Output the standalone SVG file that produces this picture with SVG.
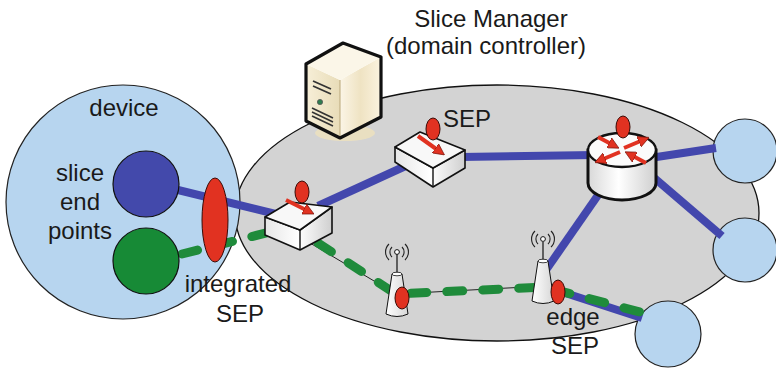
<svg xmlns="http://www.w3.org/2000/svg" width="776" height="368" viewBox="0 0 776 368">
  <defs>
    <style>
      .lbl { font-family: "Liberation Sans", Arial, sans-serif; font-size: 24px; fill: #1a1a1a; text-anchor: middle; }
      .ep { fill: #b7d5ef; stroke: #222; stroke-width: 1.2; }
      .blue { fill: none; stroke: #4347ad; stroke-width: 8; stroke-linecap: butt; }
      .green { fill: none; stroke: #1f8b3b; stroke-width: 9; stroke-linecap: round; stroke-dasharray: 16 20; }
      .thin { fill: none; stroke: #222; stroke-width: 1; }
      .sep { fill: #e13221; stroke: #3a0a05; stroke-width: 1; }
      .arr { fill: none; stroke: #e13221; stroke-width: 4; }
      .box-top { fill: #f8f8f8; stroke: #111; stroke-width: 1.6; stroke-linejoin: round; }
      .box-side { fill: url(#boxShade); stroke: #111; stroke-width: 1.6; stroke-linejoin: round; }
      .tower { fill: url(#towerShade); stroke: #111; stroke-width: 1; }
      .wave { fill: none; stroke: #222; stroke-width: 1.1; }
    </style>
    <linearGradient id="boxShade" x1="0" y1="0" x2="1" y2="0">
      <stop offset="0" stop-color="#e6e6e6"/>
      <stop offset="0.5" stop-color="#ffffff"/>
      <stop offset="1" stop-color="#cfcfcf"/>
    </linearGradient>
    <linearGradient id="cylShade" x1="0" y1="0" x2="1" y2="0">
      <stop offset="0" stop-color="#d8d8d8"/>
      <stop offset="0.45" stop-color="#ffffff"/>
      <stop offset="1" stop-color="#cfcfcf"/>
    </linearGradient>
    <linearGradient id="towerShade" x1="0" y1="0" x2="1" y2="0">
      <stop offset="0" stop-color="#ffffff"/>
      <stop offset="1" stop-color="#d6d6d6"/>
    </linearGradient>
    <linearGradient id="srvFront" x1="0" y1="0" x2="1" y2="0">
      <stop offset="0" stop-color="#f7efd8"/>
      <stop offset="1" stop-color="#e8dcb8"/>
    </linearGradient>
    <linearGradient id="srvSide" x1="0" y1="0" x2="1" y2="0">
      <stop offset="0" stop-color="#fbf5e6"/>
      <stop offset="0.5" stop-color="#efe3c3"/>
      <stop offset="1" stop-color="#fbf3df"/>
    </linearGradient>
    <marker id="head" viewBox="0 0 10 10" refX="4" refY="5" markerWidth="2.8" markerHeight="2.8" orient="auto" markerUnits="strokeWidth">
      <path d="M0,0 L10,5 L0,10 Z" fill="#e13221" stroke="#7a1208" stroke-width="0.6"/>
    </marker>
  </defs>

  <rect width="776" height="368" fill="#ffffff"/>

  <!-- domain area -->
  <g id="domain">
    <ellipse cx="497" cy="213" rx="262" ry="128" fill="#d3d3d3" stroke="#111" stroke-width="1.3"/>
  </g>

  <!-- device with its slice end points -->
  <g id="device">
    <circle cx="123" cy="202" r="117" class="ep"/>
    <text class="lbl" x="124" y="116">device</text>
    <text class="lbl" x="80" y="181">slice</text>
    <text class="lbl" x="80" y="210">end</text>
    <text class="lbl" x="80" y="239">points</text>
  </g>

  <!-- remote end points -->
  <g id="endpoint-1"><circle cx="745" cy="151" r="32" class="ep"/></g>
  <g id="endpoint-2"><circle cx="745" cy="250" r="32" class="ep"/></g>
  <g id="endpoint-3"><circle cx="668" cy="334" r="33" class="ep"/></g>

  <!-- slice connectors -->
  <g id="connectors">
    <path class="blue" d="M178,190 L292,218"/>
    <path class="blue" d="M318,206 L410,164"/>
    <path class="blue" d="M460,157 L595,155"/>
    <path class="blue" d="M650,158 L716,148"/>
    <path class="blue" d="M652,176 L722,236"/>
    <path class="blue" d="M603,188 L546,270"/>
    <path class="blue" d="M556,290 L642,318"/>
    <path class="thin" d="M305,240 L396,294 L545,286"/>
    <path class="green" d="M182,254 L270,232"/>
    <path class="green" d="M318,243 L396,294 L545,287 L640,312"/>
  </g>

  <!-- slice end point circles inside the device -->
  <g id="slice-blue"><circle cx="146" cy="184" r="33" fill="#4349ab" stroke="#111" stroke-width="1.2"/></g>
  <g id="slice-green"><circle cx="146" cy="261" r="33" fill="#178a36" stroke="#111" stroke-width="1.2"/></g>

  <!-- integrated SEP -->
  <g id="integrated-sep">
    <ellipse cx="215" cy="220" rx="13" ry="42" class="sep"/>
    <text class="lbl" x="238" y="292">integrated</text>
    <text class="lbl" x="240" y="322">SEP</text>
  </g>

  <!-- slice manager server -->
  <g id="slice-manager">
    <ellipse cx="345" cy="133" rx="30" ry="8" fill="#efe2bd" opacity="0.8"/>
    <path d="M306,64 L340,80 L340,137 L306,121 Z" fill="url(#srvFront)"/>
    <path d="M340,80 L381,57 L381,117 L340,137 Z" fill="url(#srvSide)"/>
    <path d="M306,64 L343,43 L381,57 L340,80 Z" fill="#fbf6e8"/>
    <path d="M340,80 L340,137" stroke="#b9a77a" stroke-width="1"/>
    <path d="M306,64 L343,43 L381,57 L381,117 L340,138 L306,121 Z" fill="none" stroke="#111" stroke-width="3.2" stroke-linejoin="round"/>
    <path d="M313,81 L331,89 M313,86 L331,94" stroke="#333" stroke-width="1.8"/>
    <circle cx="320" cy="102" r="2.6" fill="#2e7d4f" stroke="#555" stroke-width="0.8"/>
    <path d="M312,108 L333,118 M312,112 L333,122 M312,116 L333,126" stroke="#333" stroke-width="1.6"/>
    <text class="lbl" x="491" y="27">Slice Manager</text>
    <text class="lbl" x="486" y="54">(domain controller)</text>
  </g>

  <!-- SEP switch box 1 -->
  <g id="sep-box-1">
    <path class="box-side" d="M265,217 L300,230 L332,207 L332,233 L300,250 L265,235 Z"/>
    <path d="M300,230 L300,250" stroke="#111" stroke-width="1.4"/>
    <path class="box-top" d="M265,217 L290,202 L332,207 L300,230 Z"/>
    <path class="arr" d="M286,200 L308,211" marker-end="url(#head)"/>
    <ellipse cx="302" cy="192" rx="7" ry="11" class="sep"/>
  </g>

  <!-- SEP switch box 2 -->
  <g id="sep-box-2">
    <path class="box-side" d="M395,147 L433,168 L465,150 L465,168 L433,187 L395,162 Z"/>
    <path d="M433,168 L433,187" stroke="#111" stroke-width="1.4"/>
    <path class="box-top" d="M395,147 L420,132 L465,150 L433,168 Z"/>
    <path class="arr" d="M418,136 L439,151" marker-end="url(#head)"/>
    <ellipse cx="433" cy="129" rx="7" ry="11" class="sep"/>
    <text class="lbl" x="467" y="127">SEP</text>
  </g>

  <!-- router -->
  <g id="router">
    <path d="M588,150 L588,183 A34,17 0 0 0 656,183 L656,150 Z" fill="url(#cylShade)" stroke="#111" stroke-width="3"/>
    <ellipse cx="622" cy="150" rx="34" ry="17" fill="#fbfbfb" stroke="#111" stroke-width="2.4"/>
    <path class="arr" d="M624,148 L643,140" marker-end="url(#head)"/>
    <path class="arr" d="M620,152 L601,160" marker-end="url(#head)"/>
    <path class="arr" d="M598,137 L613,145" marker-end="url(#head)"/>
    <path class="arr" d="M646,163 L631,155" marker-end="url(#head)"/>
    <ellipse cx="623" cy="127" rx="7" ry="11" class="sep"/>
  </g>

  <!-- radio tower 1 -->
  <g id="tower-1">
    <path d="M397,273 L397,254" stroke="#111" stroke-width="1.2"/>
    <circle cx="397" cy="252" r="2.4" fill="#fff" stroke="#111" stroke-width="1"/>
    <path class="wave" d="M392,247 A7,7 0 0 0 392,257 M389,244 A11,11 0 0 0 389,260 M402,247 A7,7 0 0 1 402,257 M405,244 A11,11 0 0 1 405,260"/>
    <path class="tower" d="M392,274 L402,274 L408,314 Q397,319 386,314 Z"/>
    <ellipse cx="397" cy="274" rx="5" ry="1.8" fill="#fff" stroke="#111" stroke-width="0.8"/>
    <ellipse cx="402" cy="298" rx="7" ry="11" class="sep"/>
  </g>

  <!-- radio tower 2 (edge SEP) -->
  <g id="tower-2">
    <path d="M543,260 L543,242" stroke="#111" stroke-width="1.2"/>
    <circle cx="543" cy="239" r="2.4" fill="#fff" stroke="#111" stroke-width="1"/>
    <path class="wave" d="M538,234 A7,7 0 0 0 538,244 M535,231 A11,11 0 0 0 535,247 M548,234 A7,7 0 0 1 548,244 M551,231 A11,11 0 0 1 551,247"/>
    <path class="tower" d="M538,261 L548,261 L554,301 Q543,306 532,301 Z"/>
    <ellipse cx="543" cy="261" rx="5" ry="1.8" fill="#fff" stroke="#111" stroke-width="0.8"/>
    <ellipse cx="558" cy="292" rx="7" ry="12" class="sep"/>
    <text class="lbl" x="573" y="325">edge</text>
    <text class="lbl" x="575" y="354">SEP</text>
  </g>
</svg>
